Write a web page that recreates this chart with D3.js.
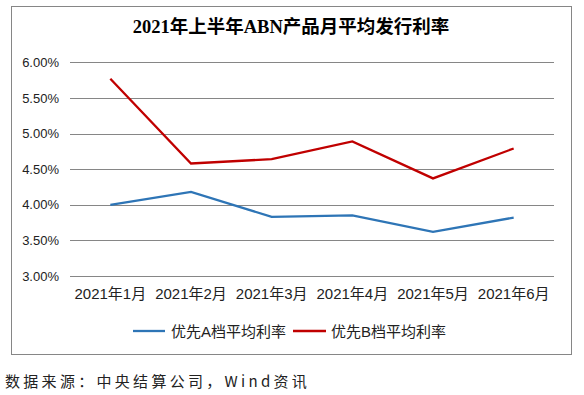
<!DOCTYPE html>
<html><head><meta charset="utf-8">
<script src="https://cdn.jsdelivr.net/npm/d3@7"></script>
<style>
html,body{margin:0;padding:0;background:#fff;}
svg{display:block;}
</style></head>
<body>
<svg id="c" width="584" height="395"></svg>
<script>
const categories = ["2021年1月","2021年2月","2021年3月","2021年4月","2021年5月","2021年6月"];
const seriesA = [4.00, 4.18, 3.83, 3.85, 3.62, 3.82];
const seriesB = [5.77, 4.58, 4.64, 4.89, 4.37, 4.79];
const seriesNames = ["优先A档平均利率","优先B档平均利率"];
const seriesColors = ["#2E75B6","#C00000"];
const yTicks = [3.0,3.5,4.0,4.5,5.0,5.5,6.0];
const title = "2021年上半年ABN产品月平均发行利率";
const source = "数据来源：中央结算公司，Wind资讯";

const svg = d3.select("#c");
svg.append("rect").attr("x",11.5).attr("y",6.5).attr("width",560).attr("height",348)
  .attr("fill","#fff").attr("stroke","#868686").attr("stroke-width",1);

svg.append("text").attr("x",291).attr("y",33).attr("text-anchor","middle")
  .attr("font-family","'Liberation Serif','Noto Sans CJK SC',serif")
  .attr("font-weight","bold").attr("font-size",18.5).attr("fill","#000").text(title);

const x = d3.scaleBand().domain(categories).range([70,554]);
const y = d3.scaleLinear().domain([3,6]).range([276,62.3]);

const grid = svg.append("g");
grid.selectAll("line").data(yTicks).join("line")
  .attr("x1",70).attr("x2",554)
  .attr("y1",d=>Math.round(y(d))+0.5).attr("y2",d=>Math.round(y(d))+0.5)
  .attr("stroke","#868686").attr("stroke-width",1);

const yAxis = svg.append("g").attr("transform","translate(70,0)")
  .call(d3.axisLeft(y).tickValues(yTicks).tickSize(0).tickPadding(11).tickFormat(d=>d.toFixed(2)+"%"));
yAxis.select(".domain").remove();
yAxis.selectAll("text").attr("font-family","'Liberation Sans',Arial,sans-serif").attr("font-size",13).attr("fill","#222");

const xAxis = svg.append("g").attr("transform","translate(0,276)")
  .call(d3.axisBottom(x).tickSize(0).tickPadding(12));
xAxis.select(".domain").remove();
xAxis.selectAll("text").attr("font-family","'Liberation Sans','Noto Sans CJK SC',sans-serif").attr("font-size",15).attr("fill","#222");

const line = d3.line().x((d,i)=>x(categories[i])+x.bandwidth()/2).y(d=>y(d));
[seriesA, seriesB].forEach((s,i)=>{
  svg.append("path").datum(s).attr("d",line).attr("fill","none")
    .attr("stroke",seriesColors[i]).attr("stroke-width",2.3).attr("stroke-linejoin","miter");
});

const leg = [{x1:133,x2:165,tx:171},{x1:293,x2:326,tx:331}];
leg.forEach((l,i)=>{
  svg.append("line").attr("x1",l.x1).attr("x2",l.x2).attr("y1",331).attr("y2",331)
    .attr("stroke",seriesColors[i]).attr("stroke-width",2.3);
  svg.append("text").attr("x",l.tx).attr("y",336.5)
    .attr("font-family","'Liberation Sans','Noto Sans CJK SC',sans-serif").attr("font-size",15)
    .attr("fill","#222").text(seriesNames[i]);
});

svg.append("text").attr("x",5).attr("y",387)
  .attr("font-family","'Noto Sans CJK SC','DejaVu Sans Mono',monospace")
  .attr("font-size",15).attr("letter-spacing",3.3).attr("fill","#222").text(source);
</script>
</body></html>
